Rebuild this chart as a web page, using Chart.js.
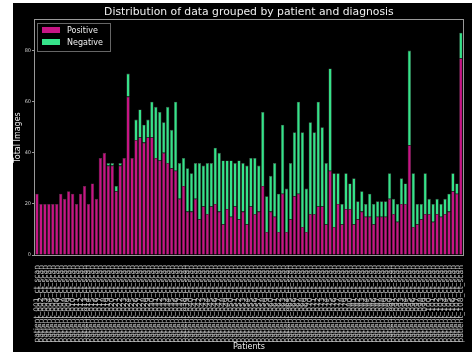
<!DOCTYPE html>
<html>
<head>
<meta charset="utf-8">
<script src="https://cdn.jsdelivr.net/npm/chart.js@4/dist/chart.umd.min.js"></script>
<style>
  html, body { margin: 0; padding: 0; background: #fff; }
  #wrap { position: absolute; left: 13px; top: 3px; width: 459px; height: 349px; background: #000; }
</style>
</head>
<body>
<div id="wrap"><canvas id="patientsChart" width="459" height="349"></canvas></div>
<script>
// patients along the x axis (ids unreadable in the source, one per bar)
const patients = [
  'patient_001_ct_scan','patient_002_ct_scan','patient_003_ct_scan','patient_004_ct_scan','patient_005_ct_scan','patient_006_ct_scan',
  'patient_007_ct_scan','patient_008_ct_scan','patient_009_ct_scan','patient_010_ct_scan','patient_011_ct_scan','patient_012_ct_scan',
  'patient_013_ct_scan','patient_014_ct_scan','patient_015_ct_scan','patient_016_ct_scan','patient_017_ct_scan','patient_018_ct_scan',
  'patient_019_ct_scan','patient_020_ct_scan','patient_021_ct_scan','patient_022_ct_scan','patient_023_ct_scan','patient_024_ct_scan',
  'patient_025_ct_scan','patient_026_ct_scan','patient_027_ct_scan','patient_028_ct_scan','patient_029_ct_scan','patient_030_ct_scan',
  'patient_031_ct_scan','patient_032_ct_scan','patient_033_ct_scan','patient_034_ct_scan','patient_035_ct_scan','patient_036_ct_scan',
  'patient_037_ct_scan','patient_038_ct_scan','patient_039_ct_scan','patient_040_ct_scan','patient_041_ct_scan','patient_042_ct_scan',
  'patient_043_ct_scan','patient_044_ct_scan','patient_045_ct_scan','patient_046_ct_scan','patient_047_ct_scan','patient_048_ct_scan',
  'patient_049_ct_scan','patient_050_ct_scan','patient_051_ct_scan','patient_052_ct_scan','patient_053_ct_scan','patient_054_ct_scan',
  'patient_055_ct_scan','patient_056_ct_scan','patient_057_ct_scan','patient_058_ct_scan','patient_059_ct_scan','patient_060_ct_scan',
  'patient_061_ct_scan','patient_062_ct_scan','patient_063_ct_scan','patient_064_ct_scan','patient_065_ct_scan','patient_066_ct_scan',
  'patient_067_ct_scan','patient_068_ct_scan','patient_069_ct_scan','patient_070_ct_scan','patient_071_ct_scan','patient_072_ct_scan',
  'patient_073_ct_scan','patient_074_ct_scan','patient_075_ct_scan','patient_076_ct_scan','patient_077_ct_scan','patient_078_ct_scan',
  'patient_079_ct_scan','patient_080_ct_scan','patient_081_ct_scan','patient_082_ct_scan','patient_083_ct_scan','patient_084_ct_scan',
  'patient_085_ct_scan','patient_086_ct_scan','patient_087_ct_scan','patient_088_ct_scan','patient_089_ct_scan','patient_090_ct_scan',
  'patient_091_ct_scan','patient_092_ct_scan','patient_093_ct_scan','patient_094_ct_scan','patient_095_ct_scan','patient_096_ct_scan',
  'patient_097_ct_scan','patient_098_ct_scan','patient_099_ct_scan','patient_100_ct_scan','patient_101_ct_scan','patient_102_ct_scan',
  'patient_103_ct_scan','patient_104_ct_scan','patient_105_ct_scan','patient_106_ct_scan','patient_107_ct_scan','patient_108_ct_scan'
];

const positive = [
  24,20,20,20,20,20,24,22,25,24,20,24,27,20,28,22,38,40,35,35,25,35,38,62,38,45,46,44,46,
  46,38,37,40,36,34,33,22,27,17,17,22,14,19,16,19,20,17,12,18,15,19,14,17,12,19,16,17,27,9,
  17,15,9,24,9,14,23,24,11,9,
  16,16,19,19,12,
  33,11,20,12,18,18,12,14,17,15,15,12,15,15,15,22,16,13,20,20,43,11,12,14,16,16,13,16,15,16,17,25,24,77
];

const negative = [
  0,0,0,0,0,0,0,0,0,0,0,0,0,0,0,0,0,0,1,1,2,1,0,9,0,8,11,7,7,
  14,20,19,12,22,15,27,14,11,17,15,14,22,16,20,17,22,23,25,19,22,17,23,19,23,19,22,18,29,14,
  14,21,15,27,17,22,25,36,37,17,
  36,32,41,31,24,
  40,21,12,8,14,10,18,7,8,5,9,8,6,6,6,10,6,7,10,8,37,21,8,6,16,6,7,6,5,6,7,7,4,10
];

const yTicks = [0, 20, 40, 60, 80];

const legendBox = {
  id: 'legendBox',
  afterDraw(chart) {
    const ctx = chart.ctx;
    ctx.save();
    ctx.fillStyle = '#000';
    ctx.strokeStyle = '#666';
    ctx.lineWidth = 1;
    ctx.fillRect(24.5, 20.5, 73, 28);
    ctx.strokeRect(24.5, 20.5, 73, 28);
    ctx.font = '8px "DejaVu Sans"';
    ctx.textBaseline = 'middle';
    chart.data.datasets.forEach((ds, i) => {
      const y = 27 + i * 12;
      ctx.fillStyle = ds.backgroundColor;
      ctx.fillRect(29, y - 3, 18, 6);
      ctx.fillStyle = '#eee';
      ctx.fillText(ds.label, 54, y + 0.5);
    });
    ctx.restore();
  }
};

const frame = {
  id: 'frame',
  afterDatasetsDraw(chart) {
    const a = chart.chartArea, ctx = chart.ctx;
    ctx.save();
    ctx.strokeStyle = '#999';
    ctx.lineWidth = 1;
    ctx.strokeRect(Math.round(a.left) - 0.5, Math.round(a.top) - 0.5, Math.round(a.right - a.left) + 1, Math.round(a.bottom - a.top) + 1);
    ctx.restore();
  }
};

window.addEventListener('load', ()=>{
  const ctx = document.getElementById('patientsChart');
  new Chart(ctx, {
    type: 'bar',
    data: {
      labels: patients,
      datasets: [
        {label: 'Positive', data: positive, backgroundColor: '#c71585', borderColor: 'rgba(255,170,210,0.35)', borderWidth: 0.6},
        {label: 'Negative', data: negative, backgroundColor: '#36e38a', borderColor: 'rgba(200,255,220,0.35)', borderWidth: 0.6}
      ]
    },
    options: {
      responsive: false,
      animation: false,
      devicePixelRatio: 1,
      layout: {padding: {left: 0, right: 4, top: 0, bottom: 0}},
      datasets: {bar: {categoryPercentage: 1, barPercentage: 0.85}},
      plugins: {
        legend: {display: false},
        tooltip: {enabled: false},
        title: {
          display: true, fullSize: false,
          text: 'Distribution of data grouped by patient and diagnosis',
          color: '#f0f0f0', font: {family: 'DejaVu Sans', size: 10.8, weight: 'normal'},
          padding: {top: 3, bottom: 1}
        }
      },
      scales: {
        x: {
          stacked: true,
          grid: {display: false},
          border: {display: false},
          ticks: {
            autoSkip: false, maxRotation: 90, minRotation: 90, padding: 2,
            color: '#c4c4c4', font: {family: 'DejaVu Sans', size: 7.6}
          },
          title: {display: true, text: 'Patients', color: '#eee', padding: {top: 0, bottom: 0},
                  font: {family: 'DejaVu Sans', size: 8}},
          afterFit: (s) => { s.height = 97; }
        },
        y: {
          stacked: true,
          min: 0, max: 92,
          afterBuildTicks: (s) => { s.ticks = yTicks.map(v => ({value: v})); },
          grid: {display: true, drawOnChartArea: false, drawTicks: true, tickLength: 3, color: '#999'},
          border: {display: false},
          ticks: {color: '#ccc', padding: 1, font: {family: 'DejaVu Sans', size: 5}},
          title: {display: true, text: 'Total Images', color: '#eee', padding: {top: 0, bottom: 0},
                  font: {family: 'DejaVu Sans', size: 8}},
          afterFit: (s) => { s.width = 22; }
        }
      }
    },
    plugins: [legendBox, frame]
  });
});
</script>
</body>
</html>
